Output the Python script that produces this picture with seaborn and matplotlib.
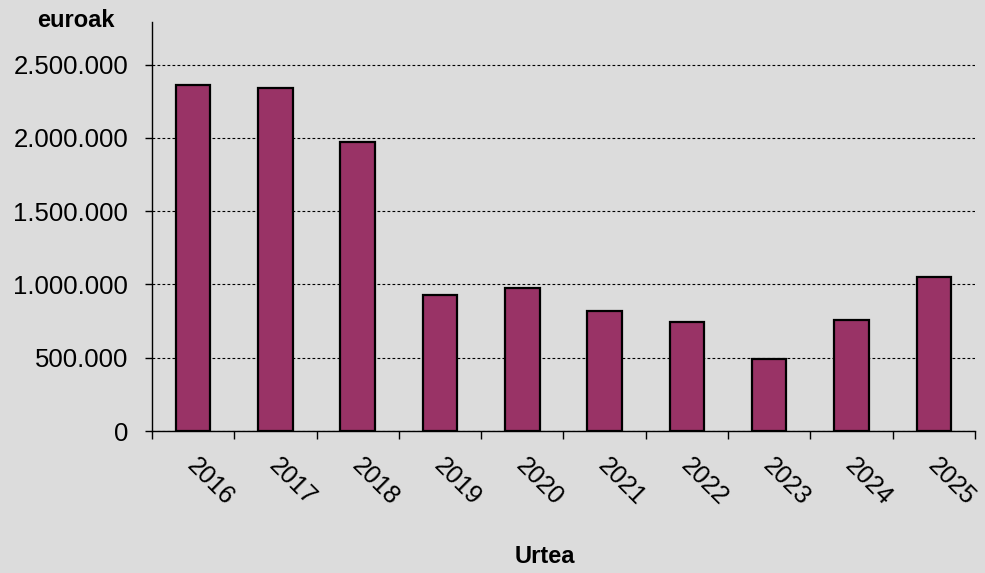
import numpy as np
import pandas as pd
import seaborn as sns
import matplotlib.pyplot as plt
import matplotlib.transforms as mtransforms
from matplotlib.ticker import FuncFormatter, FixedLocator

years = ["2016", "2017", "2018", "2019", "2020", "2021", "2022", "2023", "2024", "2025"]
amounts = [2357000, 2338000, 1970000, 930000, 977000, 822000, 745000, 492000, 760000, 1048000]
y_ticks = [0, 500000, 1000000, 1500000, 2000000, 2500000]

df = pd.DataFrame({"Urtea": years, "euroak": amounts})

sns.set_style("white")
plt.rcParams["font.family"] = ["Liberation Sans", "DejaVu Sans"]
plt.rcParams["text.color"] = "black"
plt.rcParams["xtick.color"] = "black"
plt.rcParams["ytick.color"] = "black"

bg = "#dcdcdc"
fig = plt.figure(figsize=(9.85, 5.73), dpi=100, facecolor=bg)
ax = fig.add_axes([0.1543, 0.2478, 0.8355, 0.7138])
ax.set_facecolor(bg)

sns.barplot(data=df, x="Urtea", y="euroak", color="#993366", saturation=1,
            width=0.42, edgecolor="black", linewidth=1.6, ax=ax, zorder=3)

ax.set_xlim(-0.5, len(years) - 0.5)
ax.set_ylim(0, 2790000)
ax.set_yticks(y_ticks)
ax.yaxis.set_major_formatter(FuncFormatter(lambda v, p: f"{int(v):,}".replace(",", ".")))
ax.grid(axis="y", color="black", linestyle=(0, (2.5, 2)), linewidth=0.8, zorder=0)

# ticks between the categories, labels under the bars
ax.xaxis.set_minor_locator(FixedLocator(np.arange(-0.5, len(years), 1.0)))
ax.tick_params(axis="x", which="both", bottom=True)
ax.tick_params(axis="x", which="major", length=0, pad=16, labelsize=18, labelcolor="black")
ax.tick_params(axis="x", which="minor", length=6, width=1, color="black", direction="out")
ax.tick_params(axis="y", left=True, length=5, width=1, color="black", direction="out",
               pad=12, labelsize=18.5, labelcolor="black")
shift = mtransforms.ScaledTranslation(0.06, 0, fig.dpi_scale_trans)
for lab in ax.get_xticklabels():
    lab.set_rotation(-45)
    lab.set_ha("left")
    lab.set_va("top")
    lab.set_rotation_mode("anchor")
    lab.set_transform(lab.get_transform() + shift)

for s in ["top", "right"]:
    ax.spines[s].set_visible(False)
for s in ["left", "bottom"]:
    ax.spines[s].set_color("black")
    ax.spines[s].set_linewidth(1)

ax.set_xlabel("")
ax.set_ylabel("")
fig.text(0.077, 0.965, "euroak", ha="center", va="center", fontsize=17, fontweight="bold")
fig.text(0.553, 0.028, "Urtea", ha="center", va="center", fontsize=17, fontweight="bold")

plt.savefig("out.png", dpi=100, facecolor=bg)
